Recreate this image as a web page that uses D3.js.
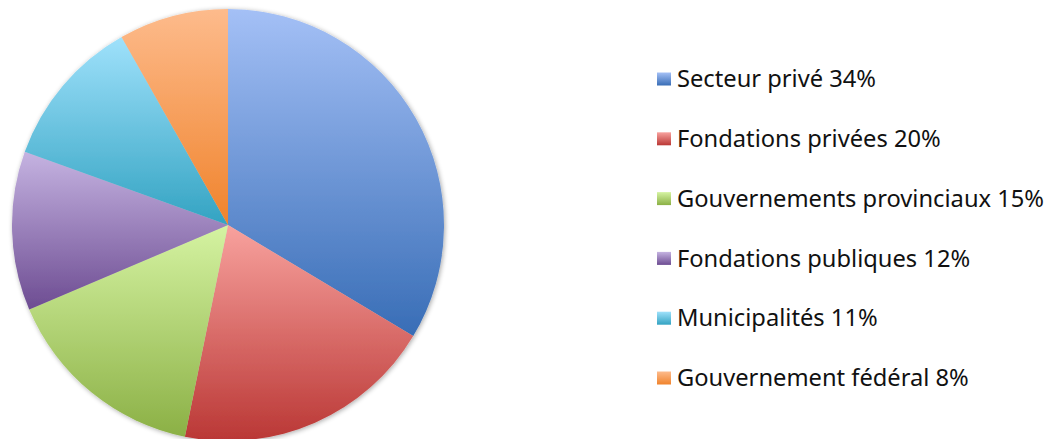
<!DOCTYPE html>
<html>
<head>
<meta charset="utf-8">
<script src="https://cdn.jsdelivr.net/npm/d3@7"></script>
<style>
  body { margin: 0; background: #ffffff; }
  svg { display: block; }
</style>
</head>
<body>
<svg id="pie-svg" width="1047" height="439"></svg>
<script>
// Chart data
const categories = ["Secteur privé", "Fondations privées", "Gouvernements provinciaux",
                    "Fondations publiques", "Municipalités", "Gouvernement fédéral"];
const shares = [33.6, 19.6, 15.4, 11.9, 11.3, 8.2];
const shareLabels = ["34%", "20%", "15%", "12%", "11%", "8%"];

// Gradient colours (light top, dark bottom)
const lightColors = ["#a4c0f6", "#f8a29e", "#d5f3a2", "#c5b3e1", "#9fe1fb", "#fdbb8c"];
const darkColors = ["#386db6", "#ba3735", "#8bb045", "#6d4c92", "#33a3c2", "#f0832c"];

const size = {
    width: 1047,
    height: 439,
    cx: 228,
    cy: 225,
    radius: 216
};

const svg = d3.select("#pie-svg");
const defs = svg.append("defs");

// One vertical gradient per slice
categories.forEach((c, i) => {
    const g = defs.append("linearGradient")
        .attr("id", "grad" + i)
        .attr("x1", 0).attr("y1", 0)
        .attr("x2", 0).attr("y2", 1);
    g.append("stop").attr("offset", "0%").attr("stop-color", lightColors[i]);
    g.append("stop").attr("offset", "100%").attr("stop-color", darkColors[i]);
});

// Soft shadow around the pie
const shadow = defs.append("filter")
    .attr("id", "shadow")
    .attr("x", "-10%").attr("y", "-10%")
    .attr("width", "120%").attr("height", "120%");
shadow.append("feGaussianBlur").attr("in", "SourceAlpha").attr("stdDeviation", 2.5);
shadow.append("feOffset").attr("dx", 1).attr("dy", 1).attr("result", "blur");
shadow.append("feComponentTransfer").append("feFuncA").attr("type", "linear").attr("slope", 0.35);
const merge = shadow.append("feMerge");
merge.append("feMergeNode");
merge.append("feMergeNode").attr("in", "SourceGraphic");

const pie = d3.pie().sort(null).value(d => d);
const arc = d3.arc().innerRadius(0).outerRadius(size.radius);

const pieGroup = svg.append("g")
    .attr("transform", `translate(${size.cx}, ${size.cy})`)
    .attr("filter", "url(#shadow)");

pieGroup.selectAll("path")
    .data(pie(shares))
    .join("path")
    .attr("d", arc)
    .attr("fill", (d, i) => `url(#grad${i})`);

// Legend
const legend = svg.append("g").attr("transform", "translate(657, 79)");
const rowStep = 59.8;

const rows = legend.selectAll("g")
    .data(categories)
    .join("g")
    .attr("transform", (d, i) => `translate(0, ${i * rowStep})`);

rows.append("rect")
    .attr("x", 0)
    .attr("y", -6.5)
    .attr("width", 14)
    .attr("height", 13)
    .attr("fill", (d, i) => `url(#grad${i})`);

rows.append("text")
    .attr("x", 20)
    .attr("y", 0)
    .attr("dy", "0.35em")
    .attr("font-family", "'Noto Sans', sans-serif")
    .attr("font-size", 23.7)
    .attr("fill", "#111111")
    .text((d, i) => `${d} ${shareLabels[i]}`);
</script>
</body>
</html>
